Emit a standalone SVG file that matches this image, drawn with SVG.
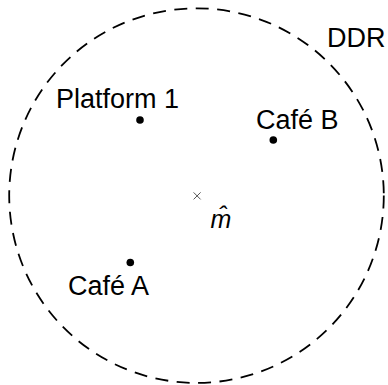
<svg xmlns="http://www.w3.org/2000/svg" width="388" height="385" viewBox="0 0 388 385">
<style>
.lbl{font-family:"Liberation Sans",Arial,sans-serif;font-size:27px;fill:#000}
.dot{fill:#000}
.region{fill:none;stroke:#000;stroke-width:1.8;stroke-dasharray:13 8.5}
</style>
<rect width="388" height="385" fill="#fff"/>
<g id="ddr">
<circle class="region" cx="196.5" cy="195.6" r="187.3"/>
<text class="lbl" x="327" y="47">DDR</text>
</g>
<g id="platform1">
<circle class="dot" cx="140" cy="120" r="3.8"/>
<text class="lbl" x="56" y="108">Platform 1</text>
</g>
<g id="cafeB">
<circle class="dot" cx="273.3" cy="140" r="3.8"/>
<text class="lbl" x="256" y="128.5">Café B</text>
</g>
<g id="cafeA">
<circle class="dot" cx="130.3" cy="262.5" r="3.8"/>
<text class="lbl" x="68" y="295">Café A</text>
</g>
<g id="mhat">
<path d="M193.6 192.4 L200.6 199.4 M200.6 192.4 L193.6 199.4" stroke="#555" stroke-width="1" fill="none"/>
<text x="210.5" y="228" style="font-family:'Liberation Sans',Arial,sans-serif;font-size:25px;font-style:italic">m&#x302;</text>
</g>
<g id="connectors"></g>
</svg>
